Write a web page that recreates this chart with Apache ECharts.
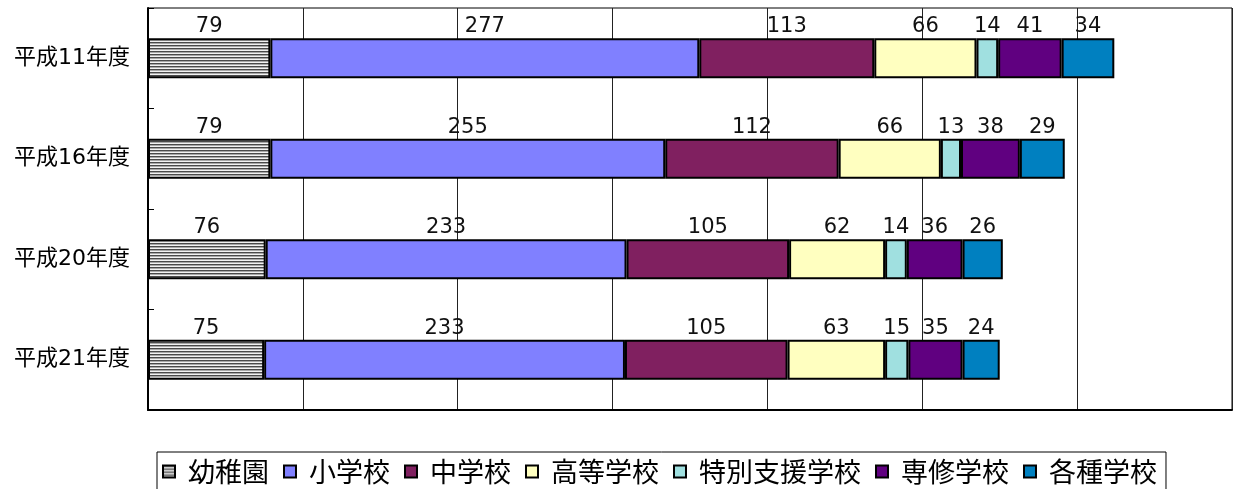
<!DOCTYPE html>
<html>
<head>
<meta charset="utf-8">
<style>
  html, body { margin: 0; padding: 0; background: #fff; }
  #chart { width: 1233px; height: 489px; }
</style>
<script src="https://cdn.jsdelivr.net/npm/echarts@6/dist/echarts.min.js"></script>
</head>
<body>
<div id="chart"></div>
<script>
// 学校種別の学校数（年度別）
const years = ['平成11年度', '平成16年度', '平成20年度', '平成21年度'];
const seriesNames = ['幼稚園', '小学校', '中学校', '高等学校', '特別支援学校', '専修学校', '各種学校'];
const kindergarten = [79, 79, 76, 75];
const elementary   = [277, 255, 233, 233];
const juniorHigh   = [113, 112, 105, 105];
const highSchool   = [66, 66, 62, 63];
const special      = [14, 13, 14, 15];
const vocational   = [41, 38, 36, 35];
const misc         = [34, 29, 26, 24];
const xTicks = [0, 100, 200, 300, 400, 500, 600, 700];

// horizontal stripe fill for the first series
function stripePattern() {
  const c = document.createElement('canvas');
  c.width = 4; c.height = 3;
  const g = c.getContext('2d');
  const rows = ['#4a4a4a', '#a8a8a8', '#f2f2f2'];
  rows.forEach((col, i) => { g.fillStyle = col; g.fillRect(0, i, 4, 1); });
  return { image: c, repeat: 'repeat' };
}

const fills = [stripePattern(), '#8080FF', '#802060', '#FFFFC0', '#A0E0E0', '#600080', '#0080C0'];
const values = [kindergarten, elementary, juniorHigh, highSchool, special, vocational, misc];
// wide Latin digits, CJK glyphs from Noto
const font = '"DejaVu Sans", "Noto Sans CJK JP", sans-serif';
const cjkFont = '"Noto Sans CJK JP", sans-serif';

const chart = echarts.init(document.getElementById('chart'), null, { renderer: 'canvas' });
chart.setOption({
  animation: false,
  textStyle: { fontFamily: font },
  grid: {
    left: 148, right: 1, top: 8, bottom: 79,
    show: true, borderColor: '#000', borderWidth: 1, backgroundColor: '#fff'
  },
  legend: {
    left: 157, top: 452,
    padding: [6, 9, 20, 5],
    borderColor: '#000', borderWidth: 1,
    itemWidth: 12, itemHeight: 12, itemGap: 14,
    icon: 'rect',
    itemStyle: { borderColor: '#000', borderWidth: 2 },
    textStyle: { fontSize: 27, color: '#000', fontFamily: cjkFont, padding: [0, 0, 0, 8] },
    data: seriesNames
  },
  xAxis: {
    type: 'value', min: xTicks[0], max: xTicks[xTicks.length - 1], interval: 100,
    axisLabel: { show: false },
    axisTick: { show: false },
    axisLine: { show: true, lineStyle: { color: '#000', width: 2 } },
    splitLine: { show: true, lineStyle: { color: '#222', width: 1 } }
  },
  yAxis: {
    type: 'category', inverse: true, data: years,
    axisLine: { show: true, lineStyle: { color: '#000', width: 2 } },
    axisTick: { show: true, inside: true, length: 6, lineStyle: { color: '#000' } },
    axisLabel: { fontSize: 22, color: '#000', margin: 18, fontFamily: font }
  },
  series: seriesNames.map((name, i) => ({
    name, type: 'bar', stack: 'total', barWidth: '40%',
    data: values[i],
    itemStyle: { color: fills[i], borderColor: '#000', borderWidth: 2 },
    label: {
      show: true, position: 'top', distance: 1,
      fontSize: 21, color: '#111', fontFamily: font
    }
  }))
});
</script>
</body>
</html>
